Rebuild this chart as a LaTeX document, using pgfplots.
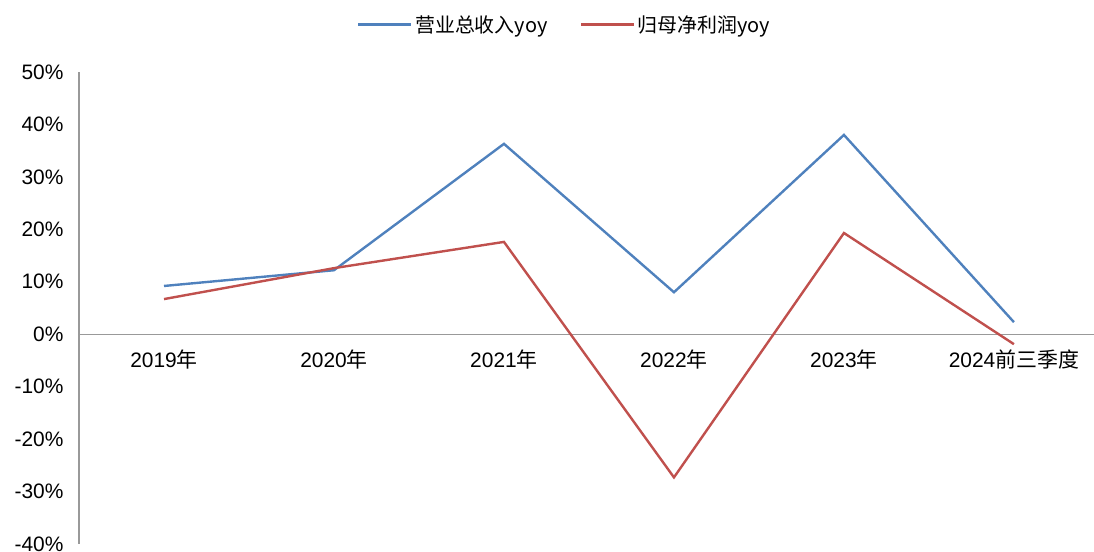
\documentclass[border=0pt]{standalone}
\usepackage{pgfplots}
\pgfplotsset{compat=1.18}
\usepackage{fontspec}
\setmainfont{Liberation Sans}
\newfontfamily\cjk{Noto Sans CJK SC}
\definecolor{sblue}{HTML}{4F81BD}
\definecolor{sred}{HTML}{C0504D}
\begin{document}
\begin{tikzpicture}[x=1bp,y=1bp]
\useasboundingbox (0,0) rectangle (1094,552);
\begin{axis}[
  at={(79bp,8bp)}, anchor=south west,
  scale only axis, width=1020bp, height=472bp,
  xmin=-0.5, xmax=5.5, ymin=-40, ymax=50,
  axis x line=middle, axis y line=left,
  axis line style={-, draw=black!40, line width=1.2bp},
  xtick={0,1,2,3,4,5},
  xticklabels={2019{\cjk 年},2020{\cjk 年},2021{\cjk 年},2022{\cjk 年},2023{\cjk 年},2024{\cjk 前三季度}},
  ytick={-40,-30,-20,-10,0,10,20,30,40,50},
  yticklabels={-40\%,-30\%,-20\%,-10\%,0\%,10\%,20\%,30\%,40\%,50\%},
  major tick length=0pt,
  tick label style={font=\fontsize{21}{24}\selectfont, text=black},
  xticklabel style={yshift=-12bp},
  yticklabel style={xshift=-12bp},
  clip=false,
  legend columns=2,
  legend style={at={(0.476,1.0)}, anchor=south, yshift=34bp, draw=none, fill=none,
    font=\cjk\fontsize{20}{24}\selectfont,
    /tikz/every even column/.append style={column sep=30bp}},
  legend image code/.code={\draw[#1, line width=3.5bp] (0bp,0bp) -- (53bp,0bp);},
]
\addplot[sblue, line width=2.4bp] coordinates {(0,9.2) (1,12.2) (2,36.3) (3,8.0) (4,38.0) (5,2.3)};
\addlegendentry{营业总收入yoy}
\addplot[sred, line width=2.4bp] coordinates {(0,6.7) (1,12.6) (2,17.6) (3,-27.3) (4,19.3) (5,-1.9)};
\addlegendentry{归母净利润yoy}
\end{axis}
\end{tikzpicture}
\end{document}
